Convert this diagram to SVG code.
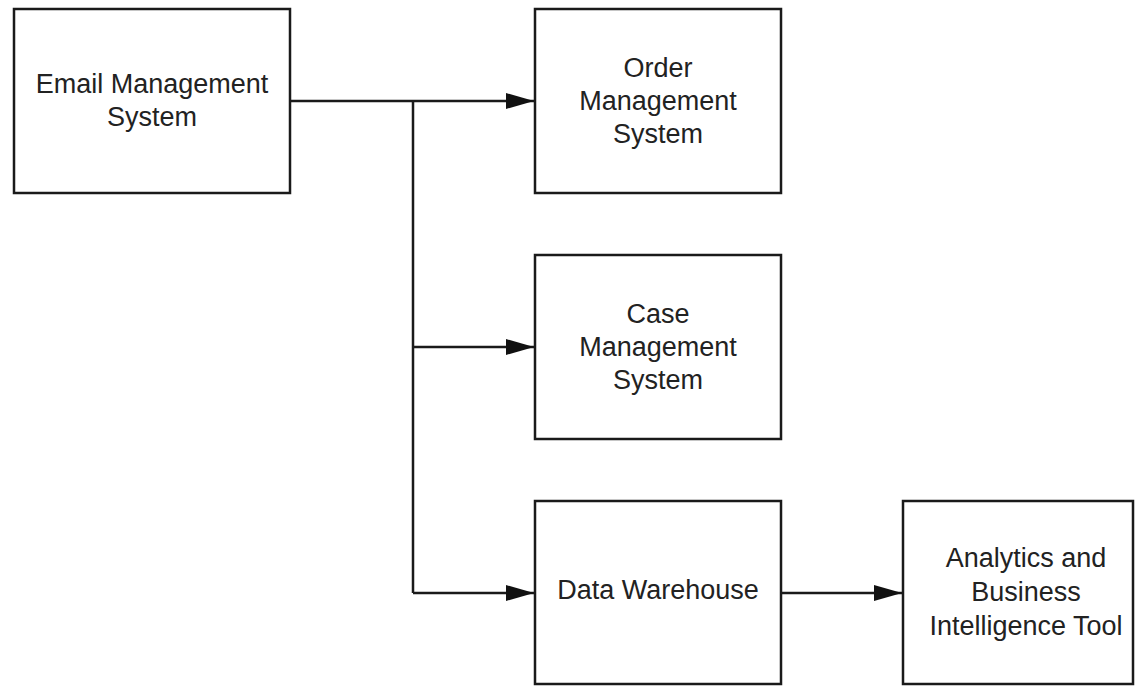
<svg xmlns="http://www.w3.org/2000/svg" width="1140" height="686" viewBox="0 0 1140 686">
<style>
.box{fill:#fff;stroke:#1a1a1a;stroke-width:2.5}
.lbl{font-family:"Liberation Sans",Arial,sans-serif;font-size:27px;fill:#222;text-anchor:middle}
.con{fill:none;stroke:#1a1a1a;stroke-width:2.5}
</style>
<defs>
<marker id="arr" viewBox="0 0 10 10" refX="10" refY="5" markerWidth="28" markerHeight="16" markerUnits="userSpaceOnUse" orient="auto" preserveAspectRatio="none">
<path d="M0,0 L10,5 L0,10 Z" fill="#111"/>
</marker>
</defs>
<rect width="1140" height="686" fill="#fff"/>
<g id="connectors">
<path class="con" d="M290,101 H534" marker-end="url(#arr)"/>
<path class="con" d="M413,101 V593"/>
<path class="con" d="M413,347 H534" marker-end="url(#arr)"/>
<path class="con" d="M413,593 H534" marker-end="url(#arr)"/>
<path class="con" d="M781,593 H902" marker-end="url(#arr)"/>
</g>
<g id="email">
<rect class="box" x="14" y="9" width="276" height="184"/>
<text class="lbl" x="152" y="93">Email Management</text>
<text class="lbl" x="152" y="126">System</text>
</g>
<g id="order">
<rect class="box" x="535" y="9" width="246" height="184"/>
<text class="lbl" x="658" y="77">Order</text>
<text class="lbl" x="658" y="110">Management</text>
<text class="lbl" x="658" y="143">System</text>
</g>
<g id="case">
<rect class="box" x="535" y="255" width="246" height="184"/>
<text class="lbl" x="658" y="323">Case</text>
<text class="lbl" x="658" y="356">Management</text>
<text class="lbl" x="658" y="389">System</text>
</g>
<g id="warehouse">
<rect class="box" x="535" y="501" width="246" height="183"/>
<text class="lbl" x="658" y="599">Data Warehouse</text>
</g>
<g id="analytics">
<rect class="box" x="903" y="501" width="230" height="183"/>
<text class="lbl" x="1026" y="567">Analytics and</text>
<text class="lbl" x="1026" y="601">Business</text>
<text class="lbl" x="1026" y="635">Intelligence Tool</text>
</g>
</svg>
